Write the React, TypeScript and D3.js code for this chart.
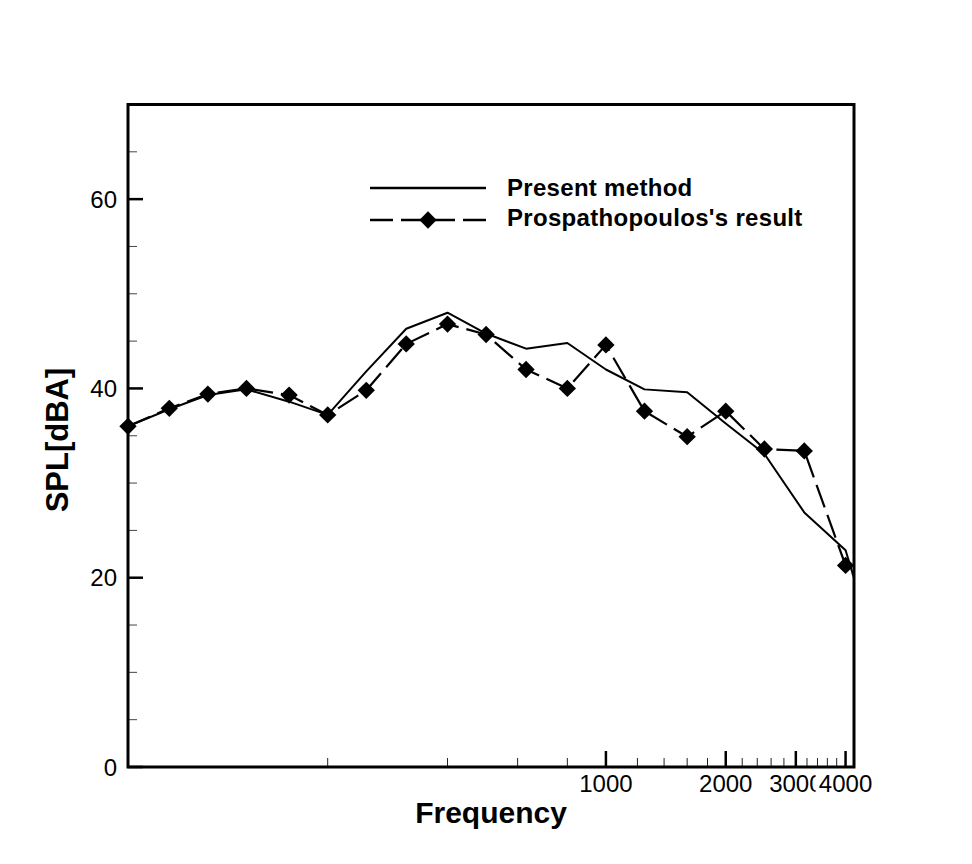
import * as d3 from "d3";

// 1/3-octave band centre frequencies (Hz)
const freqs = [63, 80, 100, 125, 160, 200, 250, 315, 400, 500, 630, 800, 1000, 1250, 1600, 2000, 2500, 3150, 4000, 5000];
const presentMethod = [36.0, 37.8, 39.3, 39.9, 38.6, 37.2, 41.8, 46.3, 48.0, 45.8, 44.2, 44.8, 42.0, 39.9, 39.6, 36.3, 33.1, 26.9, 22.9, 9.5];
const prospResult = [36.0, 37.9, 39.4, 40.0, 39.3, 37.2, 39.8, 44.7, 46.8, 45.7, 42.0, 40.0, 44.6, 37.6, 34.9, 37.6, 33.6, 33.4, 21.3, 16.5];

const xMajorTicks = [1000, 2000, 3000, 4000];
const xMinorTicks = [200, 400, 600, 800, 1200, 1400, 1600, 1800, 2200, 2400, 2600, 2800, 3200, 3400, 3600, 3800];
const yMajorTicks = [0, 20, 40, 60];
const yMinorTicks = [5, 10, 15, 25, 30, 35, 45, 50, 55, 65];

const seriesNames = ["Present method", "Prospathopoulos's result"];

const FONT = "'Liberation Sans', Arial, Helvetica, sans-serif";

export default function App() {
  const width = 972;
  const height = 864;
  const left = 128;
  const right = 854;
  const top = 104.5;
  const bottom = 767;

  const x = d3.scaleLog().domain([63, 4200]).range([left, right]);
  const y = d3.scaleLinear().domain([0, 70]).range([bottom, top]);

  const line = d3
    .line<[number, number]>()
    .x((d) => x(d[0]))
    .y((d) => y(d[1]));

  const presentPts = freqs.map((f, i) => [f, presentMethod[i]] as [number, number]);
  const prospPts = freqs.map((f, i) => [f, prospResult[i]] as [number, number]);
  const diamond = d3.symbol(d3.symbolSquare, 150)();

  const legendX0 = 370;
  const legendX1 = 486;

  return (
    <svg
      width={width}
      height={height}
      style={{ position: "absolute", left: 0, top: 0, background: "#fff" }}
      fontFamily={FONT}
    >
      <defs>
        <clipPath id="plot-clip">
          <rect x={left} y={top} width={right - left} height={bottom - top} />
        </clipPath>
      </defs>

      {/* minor ticks */}
      {yMinorTicks.map((t) => (
        <line key={`ym${t}`} x1={left} x2={left + 9} y1={y(t)} y2={y(t)} stroke="#444" strokeWidth={1} />
      ))}
      {xMinorTicks.map((t) => (
        <line key={`xm${t}`} x1={x(t)} x2={x(t)} y1={bottom} y2={bottom - 9} stroke="#222" strokeWidth={1} />
      ))}
      {/* major ticks */}
      {yMajorTicks.map((t) => (
        <line key={`yM${t}`} x1={left} x2={left + 15} y1={y(t)} y2={y(t)} stroke="#000" strokeWidth={2.5} />
      ))}
      {xMajorTicks.map((t) => (
        <line key={`xM${t}`} x1={x(t)} x2={x(t)} y1={bottom} y2={bottom - 16} stroke="#000" strokeWidth={2.5} />
      ))}

      {/* data */}
      <g clipPath="url(#plot-clip)">
        <path d={line(presentPts) ?? ""} fill="none" stroke="#000" strokeWidth={2} strokeLinejoin="round" />
        <path
          d={line(prospPts) ?? ""}
          fill="none"
          stroke="#000"
          strokeWidth={2.2}
          strokeDasharray="24 8"
          strokeLinejoin="round"
        />
      </g>
      {prospPts
        .filter((d) => d[0] <= 4200)
        .map((d) => (
          <path
            key={`dm${d[0]}`}
            d={diamond ?? ""}
            transform={`translate(${x(d[0])},${y(d[1])}) rotate(45)`}
            fill="#000"
          />
        ))}

      {/* frame */}
      <rect x={left} y={top} width={right - left} height={bottom - top} fill="none" stroke="#000" strokeWidth={3} />

      {/* y tick labels */}
      {yMajorTicks.map((t) => (
        <text key={`yl${t}`} x={117} y={y(t) + 8.5} textAnchor="end" fontSize={24} fill="#000">
          {t}
        </text>
      ))}
      {/* x tick labels */}
      {xMajorTicks.map((t) => {
        const w = 54;
        return (
          <g key={`xl${t}`}>
            {t === 4000 && <rect x={x(t) - w / 2 - 3} y={774} width={w + 6} height={22} fill="#fff" />}
            <text x={x(t)} y={792} textAnchor="middle" fontSize={24} fill="#000">
              {t}
            </text>
          </g>
        );
      })}

      {/* axis titles */}
      <text x={491} y={823} textAnchor="middle" fontSize={30} fontWeight="bold" fill="#000">
        Frequency
      </text>
      <text
        transform={`translate(68,440) rotate(-90)`}
        textAnchor="middle"
        fontSize={31}
        fontWeight="bold"
        fill="#000"
      >
        SPL[dBA]
      </text>

      {/* legend */}
      <line x1={legendX0} x2={legendX1} y1={188} y2={188} stroke="#000" strokeWidth={2.5} />
      <line
        x1={legendX0}
        x2={legendX1}
        y1={220}
        y2={220}
        stroke="#000"
        strokeWidth={2.5}
        strokeDasharray="23 8"
      />
      <path d={diamond ?? ""} transform={`translate(428,220) rotate(45)`} fill="#000" />
      <text x={507} y={196} fontSize={24} fontWeight="bold" letterSpacing={0.3} fill="#000">
        {seriesNames[0]}
      </text>
      <text x={507} y={226} fontSize={24} fontWeight="bold" letterSpacing={0.3} fill="#000">
        {seriesNames[1]}
      </text>
    </svg>
  );
}
